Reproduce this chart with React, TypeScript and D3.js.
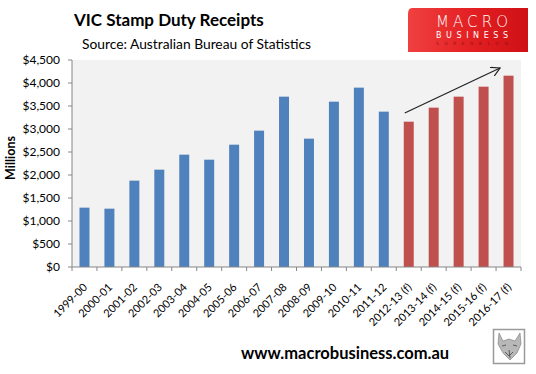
import React from "react";
import * as d3 from "d3";

const categories = [
  "1999-00", "2000-01", "2001-02", "2002-03", "2003-04", "2004-05",
  "2005-06", "2006-07", "2007-08", "2008-09", "2009-10", "2010-11",
  "2011-12", "2012-13 (f)", "2013-14 (f)", "2014-15 (f)", "2015-16 (f)", "2016-17 (f)",
];
const receipts = [
  1290, 1268, 1877, 2116, 2442, 2333, 2659, 2964, 3703, 2790, 3594, 3899,
  3377, 3159, 3464, 3703, 3920, 4159,
];
const yTicks = [0, 500, 1000, 1500, 2000, 2500, 3000, 3500, 4000, 4500];
const title = "VIC Stamp Duty Receipts";
const subtitle = "Source: Australian Bureau of Statistics";
const yTitle = "Millions";
const url = "www.macrobusiness.com.au";
const arrowFrom = { cat: "2012-13 (f)", value: 3348 };
const arrowTo = { cat: "2016-17 (f)", value: 4326 };

const W = 536, H = 374;
const plot = { left: 72, right: 521, top: 60, bottom: 267 };
const FONT = "Lato, 'Open Sans', sans-serif";

export default function App() {
  const x = d3.scaleBand<string>().domain(categories).range([plot.left, plot.right]).paddingInner(0.6).paddingOuter(0.3);
  const y = d3.scaleLinear().domain([0, 4500]).range([plot.bottom, plot.top]);
  const step = x.step();
  const bw = x.bandwidth();
  const fmt = (v: number) => "$" + d3.format(",")(v);
  const boundaries = d3.range(categories.length + 1).map((i) => plot.left + i * step);
  const ax1 = (x(arrowFrom.cat) as number) + bw / 2 - 4;
  const ay1 = y(arrowFrom.value);
  const ax2 = (x(arrowTo.cat) as number) - 3.5;
  const ay2 = y(arrowTo.value);

  return (
    <svg width={W} height={H} style={{ position: "absolute", left: 0, top: 0, background: "#fff" }} fontFamily={FONT}>
      <defs>
        <linearGradient id="logoGrad" x1="0" x2="1" y1="0" y2="0">
          <stop offset="0" stopColor="#f04040" />
          <stop offset="0.5" stopColor="#e42124" />
          <stop offset="1" stopColor="#cf1014" />
        </linearGradient>
        <marker id="arrowHead" viewBox="0 0 10 10" refX="9" refY="5" markerWidth="10" markerHeight="10" markerUnits="userSpaceOnUse" orient="auto">
          <path d="M0,0 L9,5 L0,10" fill="none" stroke="#222" strokeWidth="1.2" />
        </marker>
      </defs>

      {/* titles */}
      <text x={74} y={25.5} fontSize={17} fontWeight="bold" fill="#000">{title}</text>
      <text x={82} y={48.5} fontSize={13.8} fill="#000">{subtitle}</text>

      {/* logo */}
      <g>
        <path d="M412,8 H528 V52 H408 V14 Q408,8 412,8 Z" fill="url(#logoGrad)" />
        <text x={436} y={27} fontSize={15} fill="#fff" fontWeight={200} textLength={72} lengthAdjust="spacing" fontFamily="'DejaVu Sans', sans-serif">MACRO</text>
        <text x={436} y={37.5} fontSize={8} fill="#fff" textLength={72} lengthAdjust="spacing" fontFamily="'DejaVu Sans', sans-serif">BUSINESS</text>
        <text x={436} y={45} fontSize={4.5} fill="#8e1416" textLength={72} lengthAdjust="spacing" fontFamily="'DejaVu Sans', sans-serif">SUPERBLOG</text>
      </g>

      {/* plot area */}
      <rect x={plot.left} y={plot.top} width={plot.right - plot.left} height={plot.bottom - plot.top} fill="#f2f2f2" />

      {/* bars */}
      {categories.map((c, i) => (
        <rect key={c} x={x(c)} y={y(receipts[i])} width={bw} height={plot.bottom - y(receipts[i])}
          fill={c.includes("(f)") ? "#c0504d" : "#4f81bd"} />
      ))}

      {/* y axis */}
      <line x1={plot.left} x2={plot.left} y1={plot.top} y2={plot.bottom} stroke="#868686" strokeWidth={1} />
      {yTicks.map((t) => (
        <g key={t}>
          <line x1={plot.left - 4} x2={plot.left} y1={y(t)} y2={y(t)} stroke="#868686" />
          <text x={60} y={y(t)} dy="0.35em" textAnchor="end" fontSize={12} fill="#000">{fmt(t)}</text>
        </g>
      ))}
      <text transform={`translate(15,158) rotate(-90)`} textAnchor="middle" fontSize={12.5} fontWeight="bold" fill="#000">{yTitle}</text>

      {/* x axis */}
      <line x1={plot.left} x2={plot.right} y1={plot.bottom} y2={plot.bottom} stroke="#868686" strokeWidth={1} />
      {boundaries.map((b, i) => (
        <line key={i} x1={b} x2={b} y1={plot.bottom} y2={plot.bottom + 4} stroke="#868686" />
      ))}
      {categories.map((c) => {
        const cx = (x(c) as number) + bw / 2 + 3.5;
        return (
          <text key={c} transform={`translate(${cx},288) rotate(-45)`} textAnchor="end" fontSize={11} fill="#000">{c}</text>
        );
      })}

      {/* arrow */}
      <line x1={ax1} y1={ay1} x2={ax2} y2={ay2} stroke="#222" strokeWidth={1.2} markerEnd="url(#arrowHead)" />

      {/* url */}
      <text x={241} y={359} fontSize={16.5} fontWeight="bold" fill="#000">{url}</text>

      {/* wolf badge */}
      <g>
        <rect x={493.5} y={329.5} width={31} height={34} fill="#fff" stroke="#9a9a9a" strokeWidth={1.5} />
        <path d="M499,333 L503,341 L509,339 L515,341 L520,333 L521,344 L517,353 L510,360 L503,353 L498,344 Z" fill="#b8b8b8" stroke="#777" strokeWidth={0.6} />
        <path d="M502,346 L506,345 M513,345 L517,346 M509,350 L510,358 M505,352 L509,356 L513,352" stroke="#444" strokeWidth={0.8} fill="none" />
      </g>
    </svg>
  );
}
